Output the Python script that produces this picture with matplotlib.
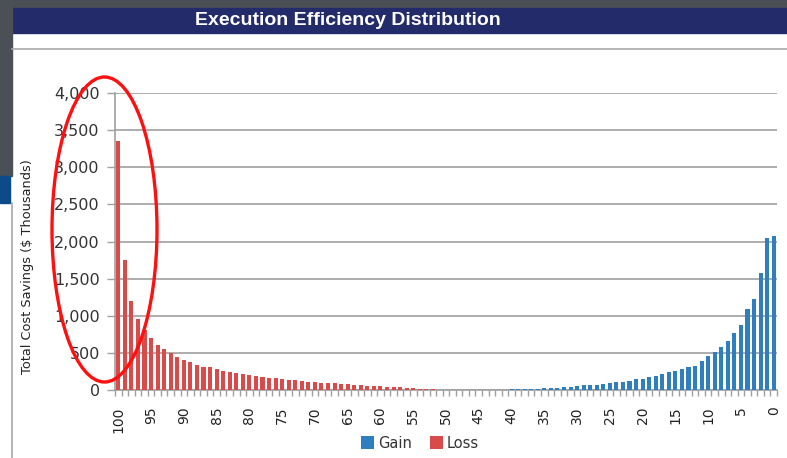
import numpy as np
import matplotlib
matplotlib.use("Agg")
import matplotlib.pyplot as plt
from matplotlib.patches import Ellipse, Rectangle, Patch
from matplotlib.ticker import FuncFormatter

# ---- data ----
categories = list(range(100, -1, -1))          # 100 ... 0
loss_head = [3354, 1747, 1196, 957, 813, 700, 605, 550, 494, 444,
             405, 378, 341, 307, 307, 289, 261, 243, 232, 216,
             200, 186, 176, 166, 158, 153, 141, 131, 126, 113,
             113, 99, 99, 90, 81, 77, 72, 63, 59, 54,
             50, 45, 41, 36, 30, 25, 20, 14, 8]        # 100 .. 52
gain_tail = [4, 6, 9, 11, 14, 16, 19, 23, 27, 32,
             36, 41, 50, 63, 65, 72, 81, 100, 104, 113,
             122, 142, 151, 169, 187, 217, 238, 260, 283, 305,
             322, 387, 452, 511, 584, 665, 763, 873, 1086, 1231,
             1573, 2045, 2072]                         # 42 .. 0
loss = loss_head + [0] * (101 - len(loss_head))
gain = [0] * (101 - len(gain_tail)) + gain_tail
tick_values = list(range(100, -1, -5))
title = "Execution Efficiency Distribution"
ylabel = "Total Cost Savings ($ Thousands)"

W, H = 787, 458
fig = plt.figure(figsize=(W / 100, H / 100), dpi=100)
fig.patch.set_facecolor("white")

def fx(px):
    return px / W

def fy(py):
    return 1 - py / H

# background decorations (screenshot frame)
deco = [
    (0, 0, W, 9, "#4a4f56"),
    (12, 8, W - 12, 25, "#232b6b"),
    (0, 0, 12, 176, "#4b5056"),
    (0, 176, 10, 27, "#0d4a8a"),
]
for x0, y0, w, h, c in deco:
    fig.patches.append(Rectangle((fx(x0), fy(y0 + h)), w / W, h / H,
                                 transform=fig.transFigure, color=c, zorder=0))
fig.add_artist(plt.Line2D([fx(12), fx(W)], [fy(49), fy(49)], color="#a8a8a8",
                          lw=1.2, transform=fig.transFigure))
fig.add_artist(plt.Line2D([fx(11.5), fx(11.5)], [fy(203), fy(H)], color="#a8a8a8",
                          lw=1.2, transform=fig.transFigure))
fig.text(fx(348), fy(20.5), title, color="white", fontsize=14, fontweight="bold",
         family="Liberation Sans", ha="center", va="center")

# main axes
ax = fig.add_axes([fx(115), fy(390), fx(777) - fx(115), fy(93) - fy(390)])
x = np.arange(len(categories))
red = "#d94a4a"
blue = "#2f7fc0"
ax.bar(x, gain, width=0.62, color=blue, zorder=3)
ax.bar(x, loss, width=0.62, color=red, zorder=3)

ax.set_xlim(-0.5, len(categories) - 0.5)
ax.set_ylim(0, 4000)
ax.set_yticks(np.arange(0, 4001, 500))
ax.yaxis.set_major_formatter(FuncFormatter(lambda v, p: f"{int(v):,}"))
ax.grid(axis="y", color="#a0a0a0", lw=1.2, zorder=0)
ax.set_axisbelow(True)

ax.set_xticks([categories.index(v) for v in tick_values])
ax.set_xticklabels([str(v) for v in tick_values], rotation=90)
ax.set_xticks(np.arange(-0.5, len(categories), 1), minor=True)
ax.tick_params(axis="x", which="major", length=0, pad=12, labelsize=10, labelcolor="#222222")
ax.tick_params(axis="x", which="minor", length=4, color="#a0a0a0", width=1)
ax.tick_params(axis="y", length=6, color="#a0a0a0", width=1, labelsize=11.5,
               labelcolor="#333333", pad=5)
for s in ["top", "right"]:
    ax.spines[s].set_visible(False)
for s in ["left", "bottom"]:
    ax.spines[s].set_color("#a0a0a0")
    ax.spines[s].set_linewidth(1.2)

fig.text(fx(28), fy(267), ylabel, rotation=90, fontsize=9.3, color="#222222",
         ha="center", va="center")

handles = [Patch(facecolor=blue, label="Gain"), Patch(facecolor=red, label="Loss")]
fig.legend(handles=handles, loc="center", bbox_to_anchor=(fx(420), fy(443)), ncol=2,
           frameon=False, fontsize=10.5, handlelength=0.9, handleheight=0.9,
           handletextpad=0.3, columnspacing=1.2, labelcolor="#333333")

ell = Ellipse((fx(104.5), fy(229.5)), 105 / W, 305 / H, transform=fig.transFigure,
              fill=False, edgecolor="#ff1010", lw=2.4, zorder=20)
fig.add_artist(ell)

fig.savefig("out.png", dpi=100)
